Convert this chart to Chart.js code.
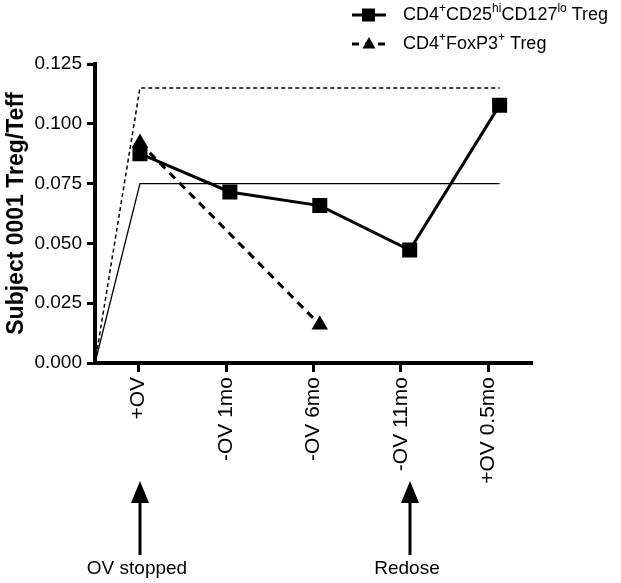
<!DOCTYPE html>
<html>
<head>
<meta charset="utf-8">
<script src="https://cdn.jsdelivr.net/npm/chart.js@4"></script>
<style>
  html, body { margin: 0; padding: 0; background: #fff; }
  #wrap { width: 621px; height: 583px; }
</style>
</head>
<body>
<div id="wrap"><canvas id="tregChart"></canvas></div>
<script>
// time points along the x axis
var timepoints = ['+OV', '-OV 1mo', '-OV 6mo', '-OV 11mo', '+OV 0.5mo'];
var cd25Treg = [0.0875, 0.0715, 0.0658, 0.0472, 0.1078];
var foxp3Treg = [0.092, null, 0.016, null, null];
// the two reference levels (thin solid and dotted lines)
var solidLevel = 0.075;
var dottedLevel = 0.115;
var yTicks = [0, 0.025, 0.05, 0.075, 0.1, 0.125];
// arrows under the axis: label and time point index
var arrowLabels = ['OV stopped', 'Redose'];
var arrowAt = [0, 3];

var FONT = '"Liberation Sans", Arial, Helvetica, sans-serif';
Chart.defaults.font.family = FONT;
Chart.defaults.color = '#000';

function toPoints(values) {
  var pts = [];
  values.forEach(function (v, i) {
    if (v !== null) pts.push({ x: i, y: v });
  });
  return pts;
}

// a level line rising from the origin to the first time point, then flat to the last
function levelLine(level) {
  return [{ x: -0.5, y: 0 }, { x: 0, y: level }, { x: timepoints.length - 1, y: level }];
}

// legend rows with superscripts: [text, isSup]
var legendRows = [
  { parts: [['CD4'], ['+', 1], ['CD25'], ['hi', 1], ['CD127'], ['lo', 1], [' Treg']], dash: [], marker: 'square' },
  { parts: [['CD4'], ['+', 1], ['FoxP3'], ['+', 1], [' Treg']], dash: [7, 6], marker: 'triangle' }
];

var legendPlugin = {
  id: 'richLegend',
  afterDraw: function (chart) {
    var ctx = chart.ctx;
    ctx.save();
    legendRows.forEach(function (row, r) {
      var y = 15 + r * 29;
      ctx.strokeStyle = '#000';
      ctx.fillStyle = '#000';
      ctx.lineWidth = 3;
      ctx.setLineDash(row.dash);
      ctx.beginPath();
      ctx.moveTo(352, y);
      ctx.lineTo(386, y);
      ctx.stroke();
      ctx.setLineDash([]);
      if (row.marker === 'square') {
        ctx.fillRect(362, y - 6.5, 13, 13);
      } else {
        ctx.beginPath();
        ctx.moveTo(369, y - 7);
        ctx.lineTo(375.5, y + 4.5);
        ctx.lineTo(362.5, y + 4.5);
        ctx.closePath();
        ctx.fill();
      }
      var x = 403;
      ctx.textBaseline = 'middle';
      ctx.textAlign = 'left';
      row.parts.forEach(function (p) {
        var sup = p[1] === 1;
        ctx.font = (sup ? 12 : 18) + 'px ' + FONT;
        ctx.fillText(p[0], x, sup ? y - 6 : y);
        x += ctx.measureText(p[0]).width;
      });
    });
    ctx.restore();
  }
};

var arrowPlugin = {
  id: 'arrows',
  afterDraw: function (chart) {
    var ctx = chart.ctx;
    var xs = chart.scales.xd;
    ctx.save();
    ctx.fillStyle = '#000';
    ctx.strokeStyle = '#000';
    arrowLabels.forEach(function (label, i) {
      var x = Math.round(xs.getPixelForValue(arrowAt[i]));
      ctx.lineWidth = 3;
      ctx.beginPath();
      ctx.moveTo(x, 555);
      ctx.lineTo(x, 500);
      ctx.stroke();
      ctx.beginPath();
      ctx.moveTo(x, 481);
      ctx.lineTo(x + 9, 503);
      ctx.lineTo(x - 9, 503);
      ctx.closePath();
      ctx.fill();
      ctx.font = '19px ' + FONT;
      ctx.textAlign = 'center';
      ctx.textBaseline = 'alphabetic';
      ctx.fillText(label, x - 3, 574);
    });
    ctx.restore();
  }
};

var config = {
  type: 'line',
  data: {
    datasets: [{
      label: 'CD4+CD25hiCD127lo Treg',
      data: toPoints(cd25Treg),
      xAxisID: 'xd',
      borderColor: '#000',
      backgroundColor: '#000',
      borderWidth: 3,
      pointStyle: 'rect',
      pointRadius: 8.5,
      pointHoverRadius: 8.5,
      tension: 0,
      clip: false
    }, {
      label: 'CD4+FoxP3+ Treg',
      data: toPoints(foxp3Treg),
      xAxisID: 'xd',
      borderColor: '#000',
      backgroundColor: '#000',
      borderWidth: 3,
      borderDash: [8, 6],
      pointStyle: 'triangle',
      pointRadius: 6.5,
      pointHoverRadius: 6.5,
      tension: 0,
      clip: false
    }, {
      label: 'level solid',
      data: levelLine(solidLevel),
      xAxisID: 'xd',
      borderColor: '#000',
      borderWidth: 1.3,
      pointRadius: 0,
      tension: 0,
      clip: false
    }, {
      label: 'level dotted',
      data: levelLine(dottedLevel),
      xAxisID: 'xd',
      borderColor: '#000',
      borderWidth: 1.5,
      borderDash: [4, 3],
      pointRadius: 0,
      tension: 0,
      clip: false
    }]
  },
  options: {
    responsive: true,
    maintainAspectRatio: false,
    animation: false,
    layout: { padding: { top: 64, right: 89, left: 0, bottom: 0 } },
    plugins: {
      legend: { display: false },
      tooltip: { enabled: false }
    },
    scales: {
      x: {
        type: 'category',
        labels: timepoints,
        offset: true,
        position: 'bottom',
        grid: { offset: false, drawOnChartArea: false, tickLength: 9, tickWidth: 3, tickColor: '#000' },
        border: { color: '#000', width: 4 },
        ticks: { font: { size: 21 }, minRotation: 90, maxRotation: 90, padding: 5, autoSkip: false },
        afterFit: function (s) { s.height = 220; }
      },
      xd: {
        type: 'linear',
        display: false,
        min: -0.5,
        max: 4.36
      },
      y: {
        min: 0,
        max: 0.125,
        afterBuildTicks: function (s) { s.ticks = yTicks.map(function (v) { return { value: v }; }); },
        ticks: { font: { size: 19 }, padding: 5, callback: function (v) { return v.toFixed(3); } },
        grid: { drawOnChartArea: false, tickLength: 8, tickWidth: 3, tickColor: '#000' },
        border: { color: '#000', width: 4 },
        title: { display: true, text: 'Subject 0001 Treg/Teff', font: { size: 23, weight: 'bold' }, padding: { top: 3, bottom: 0 } },
        afterFit: function (s) { s.width = 95; }
      }
    }
  },
  plugins: [legendPlugin, arrowPlugin]
};

var ctx = document.getElementById('tregChart').getContext('2d');
window.tregChart = new Chart(ctx, config);
</script>
</body>
</html>
